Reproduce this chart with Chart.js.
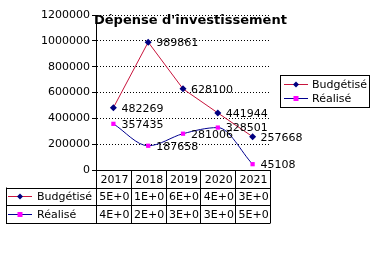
<!DOCTYPE html>
<html><head><meta charset="utf-8">
<script src="https://cdn.jsdelivr.net/npm/chart.js@4/dist/chart.umd.min.js"></script>
<style>html,body{margin:0;padding:0;background:#fff;}canvas{display:block;}</style>
</head><body>
<canvas id="c" width="380" height="275"></canvas>
<script>
const categories = ['2017','2018','2019','2020','2021'];
const budgetise = [482269, 989861, 628100, 441944, 257668];
const realise = [357435, 187658, 281006, 328501, 45108];
const tableBudgetise = ['5E+0','1E+0','6E+0','4E+0','3E+0'];
const tableRealise = ['4E+0','2E+0','3E+0','3E+0','5E+0'];
const seriesNames = ['Budgétisé','Réalisé'];
const titleText = "Dépense d'investissement";

const FONT = '11px "DejaVu Sans"';
const budgLine = '#C8143C', budgMark = '#000080';
const realLine = '#000090', realMark = '#FF00FF';

function drawMarker(ctx, type, x, y, color){
  ctx.save();
  ctx.fillStyle = color;
  ctx.beginPath();
  if (type === 'diamond'){
    ctx.moveTo(x, y-3); ctx.lineTo(x+3, y); ctx.lineTo(x, y+3); ctx.lineTo(x-3, y); ctx.closePath();
  } else {
    ctx.rect(x-2.5, y-2.5, 5, 5);
  }
  ctx.fill();
  ctx.restore();
}
function legendKey(ctx, x, y, lineColor, type, markColor){
  ctx.save();
  ctx.strokeStyle = lineColor; ctx.lineWidth = 1;
  ctx.beginPath(); ctx.moveTo(x, y+0.5); ctx.lineTo(x+24, y+0.5); ctx.stroke();
  ctx.restore();
  drawMarker(ctx, type, x+12, y+0.5, markColor);
}

const overlay = {
  id: 'overlay',
  afterDatasetsDraw(chart){
    const ctx = chart.ctx;
    const xs = chart.scales.x, ys = chart.scales.y;
    const area = chart.chartArea;
    ctx.save();
    ctx.font = FONT; ctx.fillStyle = '#000';
    ctx.textBaseline = 'middle'; ctx.textAlign = 'left';
    // data labels
    [budgetise, realise].forEach(arr => {
      arr.forEach((v, i) => {
        const px = xs.getPixelForValue(i), py = ys.getPixelForValue(v);
        ctx.fillText(String(v), px + 8, py + 1);
      });
    });
    // title
    ctx.font = 'bold 13px "DejaVu Sans"';
    ctx.fillText(titleText, area.left - 2, 21);
    // data table
    const colW = (area.right - area.left) / categories.length;
    const top = area.bottom, rowH = 17.5;
    const left0 = 6;
    ctx.strokeStyle = '#000'; ctx.lineWidth = 1;
    ctx.beginPath();
    ctx.moveTo(area.left, Math.round(top)+0.5); ctx.lineTo(area.right+0.5, Math.round(top)+0.5);
    for (let r = 1; r <= 3; r++){
      const y = Math.round(top + r*rowH) + 0.5;
      ctx.moveTo(left0, y); ctx.lineTo(area.right + 0.5, y);
    }
    for (let c = 0; c <= categories.length; c++){
      const x = Math.round(area.left + c*colW) + 0.5;
      ctx.moveTo(x, top); ctx.lineTo(x, top + 3*rowH + 0.5);
    }
    ctx.moveTo(left0 + 0.5, top + rowH); ctx.lineTo(left0 + 0.5, top + 3*rowH + 0.5);
    ctx.stroke();
    ctx.font = FONT; ctx.textAlign = 'center';
    categories.forEach((c, i) => {
      const cx = area.left + (i + 0.5)*colW;
      ctx.fillText(c, cx + 1, top + rowH/2 + 1);
      ctx.fillText(tableBudgetise[i], cx + 1, top + 1.5*rowH + 1);
      ctx.fillText(tableRealise[i], cx + 1, top + 2.5*rowH + 1);
    });
    ctx.textAlign = 'left';
    legendKey(ctx, 8, Math.round(top + 1.5*rowH), budgLine, 'diamond', budgMark);
    legendKey(ctx, 8, Math.round(top + 2.5*rowH), realLine, 'square', realMark);
    ctx.fillStyle = '#000';
    ctx.fillText(seriesNames[0], 37, top + 1.5*rowH + 1);
    ctx.fillText(seriesNames[1], 37, top + 2.5*rowH + 1);
    // right legend
    ctx.strokeRect(280.5, 75.5, 89, 32);
    legendKey(ctx, 284, 84, budgLine, 'diamond', budgMark);
    legendKey(ctx, 284, 98, realLine, 'square', realMark);
    ctx.fillStyle = '#000';
    ctx.fillText(seriesNames[0], 312, 85);
    ctx.fillText(seriesNames[1], 312, 99);
    ctx.restore();
  }
};

new Chart(document.getElementById('c'), {
  type: 'line',
  data: {
    labels: categories,
    datasets: [
      { label: seriesNames[0], data: budgetise, borderColor: budgLine, borderWidth: 1,
        pointStyle: 'rectRot', pointRadius: 3.5, pointBackgroundColor: budgMark, pointBorderColor: budgMark, pointBorderWidth: 0, tension: 0 },
      { label: seriesNames[1], data: realise, borderColor: realLine, borderWidth: 1,
        pointStyle: 'rect', pointRadius: 3, pointBackgroundColor: realMark, pointBorderColor: realMark, pointBorderWidth: 0, tension: 0.35, cubicInterpolationMode: 'monotone' }
    ]
  },
  options: {
    responsive: false, animation: false,
    layout: { padding: { top: 15, right: 110, bottom: 105, left: 0 } },
    plugins: { legend: { display: false }, tooltip: { enabled: false } },
    scales: {
      x: { display: false, offset: true },
      y: {
        min: 0, max: 1200000,
        ticks: { stepSize: 200000, color: '#000', font: { family: 'DejaVu Sans', size: 11 }, padding: 2,
          callback: v => String(v) },
        grid: { color: '#000', tickBorderDash: [], tickColor: '#000', tickLength: 4, lineWidth: 1 },
        border: { display: true, color: '#000', width: 1, dash: [1, 2] },
        afterFit(s){ s.width = 96; }
      }
    }
  },
  plugins: [overlay]
});
</script>
</body></html>
